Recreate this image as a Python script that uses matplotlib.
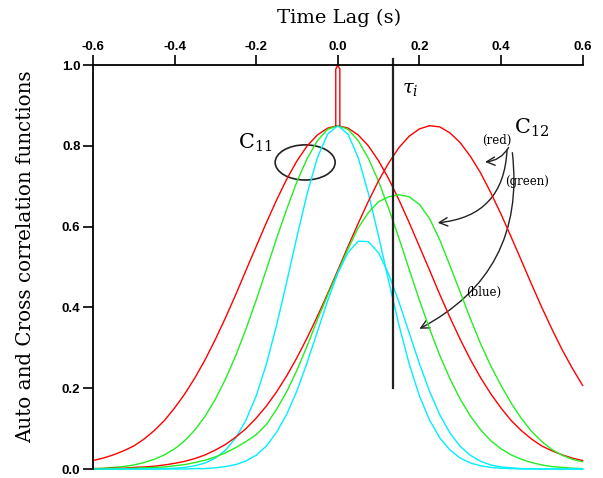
import numpy as np
import matplotlib
matplotlib.use("Agg")
import matplotlib.pyplot as plt
from matplotlib.patches import Ellipse, FancyArrowPatch

plt.rcParams['mathtext.fontset'] = 'dejavuserif'
plt.rcParams['axes.unicode_minus'] = False

# time lag grid (s), 0.025 s steps
lag = np.linspace(-0.6, 0.6, 49)

# auto correlation C11 (centred on 0)
c11_red = [0.021, 0.027, 0.035, 0.045, 0.057, 0.074, 0.095, 0.120, 0.151, 0.186, 0.226, 0.271,
           0.321, 0.375, 0.432, 0.492, 0.551, 0.610, 0.666, 0.718, 0.763, 0.800, 0.827, 0.844,
           0.850,
           0.844, 0.827, 0.800, 0.763, 0.718, 0.666, 0.610, 0.551, 0.492, 0.432, 0.375, 0.321,
           0.271, 0.226, 0.186, 0.151, 0.120, 0.095, 0.074, 0.057, 0.045, 0.035, 0.027, 0.021]
c11_green = [0.001, 0.002, 0.004, 0.006, 0.010, 0.016, 0.024, 0.035, 0.050, 0.070, 0.097, 0.131,
             0.173, 0.223, 0.281, 0.347, 0.418, 0.494, 0.571, 0.644, 0.712, 0.769, 0.813, 0.841,
             0.850,
             0.841, 0.813, 0.769, 0.712, 0.644, 0.571, 0.494, 0.418, 0.347, 0.281, 0.223, 0.173,
             0.131, 0.097, 0.070, 0.050, 0.035, 0.024, 0.016, 0.010, 0.006, 0.004, 0.002, 0.001]
c11_blue = [0.0, 0.0, 0.0, 0.0, 0.0, 0.0, 0.0, 0.001, 0.002, 0.004, 0.008, 0.015,
            0.027, 0.047, 0.077, 0.121, 0.181, 0.260, 0.356, 0.464, 0.576, 0.682, 0.771, 0.829,
            0.850,
            0.829, 0.771, 0.682, 0.576, 0.464, 0.356, 0.260, 0.181, 0.121, 0.077, 0.047, 0.027,
            0.015, 0.008, 0.004, 0.002, 0.001, 0.0, 0.0, 0.0, 0.0, 0.0, 0.0, 0.0]

# zero-lag spike of the red auto correlation
spike_lag = [-0.005, -0.005, 0.0, 0.005, 0.005]
spike_val = [0.85, 0.99, 1.0, 0.99, 0.85]

# cross correlation C12
c12_red = [0.001, 0.001, 0.002, 0.002, 0.004, 0.005, 0.007, 0.010, 0.014, 0.019, 0.026, 0.035,
           0.047, 0.061, 0.079, 0.100, 0.126, 0.156, 0.191, 0.231, 0.276, 0.325, 0.378, 0.434,
           0.492,
           0.551, 0.608, 0.663, 0.714, 0.758, 0.796, 0.824, 0.842, 0.850, 0.847, 0.832, 0.808,
           0.774, 0.733, 0.684, 0.631, 0.574, 0.516, 0.457, 0.400, 0.346, 0.295, 0.249, 0.207]
c12_green = [0.0, 0.0, 0.001, 0.001, 0.002, 0.003, 0.004, 0.005, 0.008, 0.011, 0.016, 0.022,
             0.030, 0.040, 0.053, 0.068, 0.085, 0.110, 0.148, 0.192, 0.245, 0.305, 0.370, 0.430,
             0.488,
             0.545, 0.597, 0.635, 0.662, 0.674, 0.679, 0.674, 0.655, 0.620, 0.567, 0.503, 0.438,
             0.372, 0.310, 0.255, 0.207, 0.163, 0.125, 0.093, 0.068, 0.048, 0.034, 0.024, 0.018]
c12_blue = [0.0, 0.0, 0.0, 0.0, 0.0, 0.0, 0.0, 0.0, 0.0, 0.0, 0.001, 0.001,
            0.003, 0.006, 0.011, 0.020, 0.034, 0.057, 0.091, 0.136, 0.194, 0.264, 0.340, 0.416,
            0.485,
            0.536, 0.564, 0.563, 0.535, 0.482, 0.413, 0.337, 0.261, 0.192, 0.134, 0.089, 0.056,
            0.034, 0.019, 0.010, 0.005, 0.003, 0.001, 0.001, 0.0, 0.0, 0.0, 0.0, 0.0]

tau_i = 0.135
x_ticks = [-0.6, -0.4, -0.2, 0.0, 0.2, 0.4, 0.6]
y_ticks = [0.0, 0.2, 0.4, 0.6, 0.8, 1.0]

RED, GREEN, CYAN = '#ff0000', '#22ee22', '#00eeff'

fig = plt.figure(figsize=(6.03, 4.78), dpi=100)
ax = fig.add_axes([0.1542, 0.0188, 0.812, 0.845])

for vals, col in [(c11_red, RED), (c11_green, GREEN), (c11_blue, CYAN),
                  (c12_red, RED), (c12_green, GREEN), (c12_blue, CYAN)]:
    ax.plot(lag, vals, color=col, lw=1.0, clip_on=False)
ax.plot(spike_lag, spike_val, color=RED, lw=1.0, clip_on=False)

# tau_i marker
ax.plot([tau_i, tau_i], [0.2, 1.015], color='#222222', lw=1.6, clip_on=False)
ax.text(0.177, 0.943, r'$\tau_i$', fontsize=14, ha='center', va='center')

# C11 label with ellipse
ax.text(-0.203, 0.807, r'$\mathrm{C}_{11}$', fontsize=15, ha='center', va='center')
ax.add_patch(Ellipse((-0.080, 0.759), 0.147, 0.087, fill=False, lw=1.2, color='#222222'))

# C12 label and arrows
ax.text(0.476, 0.844, r'$\mathrm{C}_{12}$', fontsize=15, ha='center', va='center')
arrows = [((0.422, 0.802), (0.354, 0.760), -0.3),
          ((0.415, 0.797), (0.238, 0.609), -0.45),
          ((0.427, 0.790), (0.194, 0.344), -0.35)]
for start, end, rad in arrows:
    ax.add_patch(FancyArrowPatch(start, end, connectionstyle=f'arc3,rad={rad}',
                                 arrowstyle='->,head_length=0.5,head_width=0.25',
                                 color='#222222', lw=1.0, mutation_scale=12))
for label, pos in [('(red)', (0.390, 0.814)), ('(green)', (0.464, 0.713)), ('(blue)', (0.358, 0.436))]:
    ax.text(pos[0], pos[1], label, fontsize=8.5, family='DejaVu Serif', ha='center', va='center')

ax.set_xlim(-0.6, 0.6)
ax.set_ylim(0.0, 1.0)
ax.set_xticks(x_ticks)
ax.set_xticklabels([f'{v:.1f}' for v in x_ticks])
ax.set_yticks(y_ticks)
ax.set_yticklabels([f'{v:.1f}' for v in y_ticks])
ax.xaxis.tick_top()
ax.tick_params(axis='x', direction='out', length=7, width=1.2, pad=2, top=True, bottom=False,
               labeltop=True, labelbottom=False)
ax.tick_params(axis='y', direction='out', length=7, width=1.2, pad=2, right=False)
for lab in ax.get_xticklabels() + ax.get_yticklabels():
    lab.set_fontfamily('Liberation Sans')
    lab.set_fontweight('bold')
    lab.set_fontsize(9.5)
ax.spines['bottom'].set_visible(False)
ax.spines['right'].set_visible(False)
ax.spines['top'].set_linewidth(1.3)
ax.spines['left'].set_linewidth(1.3)

fig.text(339 / 603, 1 - 18 / 478, 'Time Lag (s)', family='DejaVu Serif', fontsize=14,
         ha='center', va='center')
fig.text(26 / 603, 1 - 257 / 478, 'Auto and Cross correlation functions', family='DejaVu Serif',
         fontsize=14.3, rotation=90, ha='center', va='center')

fig.savefig('out.png', dpi=100)
